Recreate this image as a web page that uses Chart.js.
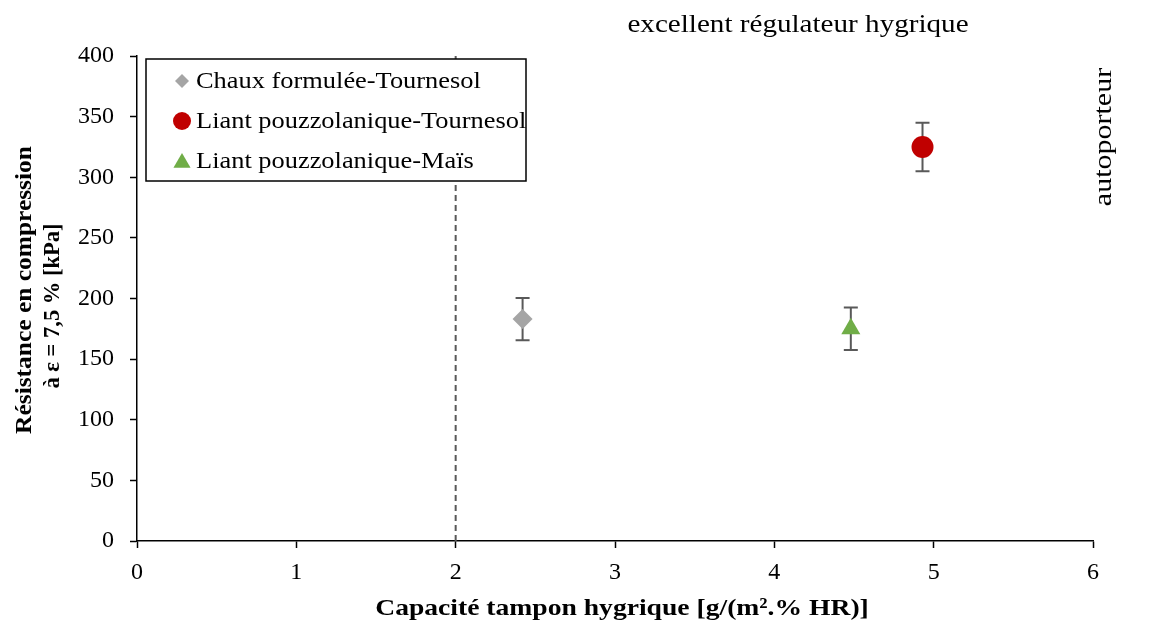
<!DOCTYPE html>
<html>
<head>
<meta charset="utf-8">
<script src="https://cdn.jsdelivr.net/npm/chart.js@4.4.1/dist/chart.umd.min.js"></script>
<style>
  html, body { margin: 0; padding: 0; background: #fff; }
  #wrap { width: 1151px; height: 623px; position: relative; }
</style>
</head>
<body>
<div id="wrap"><canvas id="c" width="1151" height="623"></canvas></div>
<script>
// Series: buffer capacity (x), compressive strength (y), error half-width
const seriesNames = ['Chaux formulée-Tournesol', 'Liant pouzzolanique-Tournesol', 'Liant pouzzolanique-Maïs'];
const xValues = [2.42, 4.93, 4.48];
const yValues = [183, 325, 175];
const yErrors = [17.5, 20, 17.5];
const seriesColors = ['#a5a5a5', '#c00000', '#70ad47'];
const seriesShapes = ['rectRot', 'circle', 'triangle'];
const seriesRadius = [10, 11, 11];

// Threshold line at 2 g/(m².%HR)
const thresholdX = 2;
const yRange = [0, 400];
const xTicks = [0, 1, 2, 3, 4, 5, 6];

const SERIF = '"Liberation Serif", "Times New Roman", serif';

const datasets = seriesNames.map((name, i) => ({
  label: name,
  data: [{ x: xValues[i], y: yValues[i] }],
  backgroundColor: seriesColors[i],
  borderColor: seriesColors[i],
  pointStyle: seriesShapes[i],
  pointRadius: seriesRadius[i],
  pointHoverRadius: seriesRadius[i],
  borderWidth: 0,
  order: 1
}));

datasets.push({
  type: 'line',
  label: 'seuil',
  data: [{ x: thresholdX, y: yRange[0] }, { x: thresholdX, y: yRange[1] }],
  borderColor: '#595959',
  borderWidth: 2,
  borderDash: [6, 4],
  pointRadius: 0,
  fill: false,
  order: 3
});

// Error bars drawn beneath the markers
const errorBars = {
  id: 'errorBars',
  beforeDatasetsDraw(chart) {
    const { ctx, scales: { x, y } } = chart;
    ctx.save();
    ctx.strokeStyle = '#595959';
    ctx.lineWidth = 2;
    for (let i = 0; i < seriesNames.length; i++) {
      const px = x.getPixelForValue(xValues[i]);
      const top = y.getPixelForValue(yValues[i] + yErrors[i]);
      const bot = y.getPixelForValue(yValues[i] - yErrors[i]);
      ctx.beginPath();
      ctx.moveTo(px, top); ctx.lineTo(px, bot);
      ctx.moveTo(px - 7, top); ctx.lineTo(px + 7, top);
      ctx.moveTo(px - 7, bot); ctx.lineTo(px + 7, bot);
      ctx.stroke();
    }
    ctx.restore();
  }
};

// Text helper: centred text, optionally widened along its run and rotated
function drawLabel(ctx, text, x, y, font, stretch, angle) {
  ctx.save();
  ctx.translate(x, y);
  if (angle) ctx.rotate(angle);
  ctx.scale(stretch, 1);
  ctx.font = font;
  ctx.fillStyle = '#000';
  ctx.textAlign = 'center';
  ctx.textBaseline = 'middle';
  ctx.fillText(text, 0, 0);
  ctx.restore();
}

// Legend box, annotations and axis titles
const decorations = {
  id: 'decorations',
  afterDraw(chart) {
    const { ctx, chartArea } = chart;
    ctx.save();
    const lx = chartArea.left + 9, ly = chartArea.top + 3, lw = 380, lh = 122;
    ctx.fillStyle = '#fff';
    ctx.fillRect(lx, ly, lw, lh);
    ctx.strokeStyle = '#000';
    ctx.lineWidth = 1.5;
    ctx.strokeRect(lx, ly, lw, lh);
    const legendRadius = [7, 9, 9];
    const rowY = [81, 121, 161];
    for (let i = 0; i < seriesNames.length; i++) {
      const cy = rowY[i];
      const cx = lx + 36;
      const r = legendRadius[i];
      ctx.fillStyle = seriesColors[i];
      ctx.beginPath();
      if (seriesShapes[i] === 'rectRot') {
        ctx.moveTo(cx, cy - r); ctx.lineTo(cx + r, cy); ctx.lineTo(cx, cy + r); ctx.lineTo(cx - r, cy);
      } else if (seriesShapes[i] === 'circle') {
        ctx.arc(cx, cy, r, 0, Math.PI * 2);
      } else {
        ctx.moveTo(cx, cy - r + 1); ctx.lineTo(cx + r * 0.95, cy + r * 0.75); ctx.lineTo(cx - r * 0.95, cy + r * 0.75);
      }
      ctx.closePath();
      ctx.fill();
      ctx.save();
      ctx.translate(lx + 50, cy + 1);
      ctx.scale(1.1, 1);
      ctx.font = '24px ' + SERIF;
      ctx.fillStyle = '#000';
      ctx.textAlign = 'left';
      ctx.textBaseline = 'middle';
      ctx.fillText(seriesNames[i], 0, 0);
      ctx.restore();
    }
    ctx.restore();

    drawLabel(ctx, 'excellent régulateur hygrique', 798, 25, '26px ' + SERIF, 1.12, 0);
    drawLabel(ctx, 'autoporteur', 1104, 137, '25px ' + SERIF, 1.2, -Math.PI / 2);
    drawLabel(ctx, 'Résistance en compression', 25, 290, 'bold 24px ' + SERIF, 1.06, -Math.PI / 2);
    drawLabel(ctx, 'à ε = 7,5 % [kPa]', 53, 306, 'bold 23px ' + SERIF, 0.98, -Math.PI / 2);
    drawLabel(ctx, 'Capacité tampon hygrique [g/(m².% HR)]', 622, 609, 'bold 24px ' + SERIF, 1.15, 0);
  }
};

new Chart(document.getElementById('c'), {
  type: 'scatter',
  data: { datasets },
  options: {
    responsive: false,
    animation: false,
    devicePixelRatio: 1,
    layout: { padding: { left: 0, right: 58, top: 56, bottom: 0 } },
    plugins: { legend: { display: false }, tooltip: { enabled: false } },
    scales: {
      x: {
        type: 'linear',
        min: 0, max: 6,
        afterFit(s) { s.height = 82; },
        afterBuildTicks(s) { s.ticks = xTicks.map(v => ({ value: v })); },
        grid: { display: true, drawOnChartArea: false, drawTicks: true, tickLength: 7, tickColor: '#000', tickWidth: 1.5 },
        border: { display: true, color: '#000', width: 1.5 },
        ticks: { color: '#000', font: { family: SERIF, size: 24 }, padding: 10 }
      },
      y: {
        type: 'linear',
        min: yRange[0], max: yRange[1],
        afterFit(s) { s.width = 137; },
        grid: { display: true, drawOnChartArea: false, drawTicks: true, tickLength: 7, tickColor: '#000', tickWidth: 1.5 },
        border: { display: true, color: '#000', width: 1.5 },
        ticks: { stepSize: 50, color: '#000', font: { family: SERIF, size: 24 }, padding: 16 }
      }
    }
  },
  plugins: [errorBars, decorations]
});
</script>
</body>
</html>
